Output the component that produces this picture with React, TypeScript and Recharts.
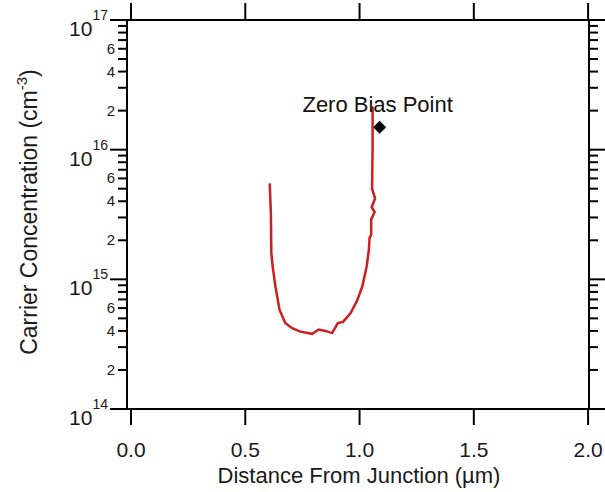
import React from 'react';
import { ComposedChart, Line, XAxis, YAxis, ReferenceDot } from 'recharts';

// carrier profile (µm, cm^-3)
const distance = [
  0.607, 0.612, 0.614, 0.62, 0.632, 0.65, 0.675, 0.705, 0.741, 0.793, 0.821, 0.851, 0.88, 0.905,
  0.928, 0.961, 0.99, 1.012, 1.031, 1.041, 1.044, 1.051, 1.051, 1.066, 1.053, 1.068, 1.055, 1.057,
  1.057,
];
const concentration = [
  5.5e15, 3.25e15, 1.6e15, 1.25e15, 8.8e14, 5.8e14, 4.6e14, 4.2e14, 3.95e14, 3.8e14, 4.1e14, 4.0e14,
  3.85e14, 4.6e14, 4.7e14, 5.5e14, 6.9e14, 8.8e14, 1.25e15, 1.7e15, 2.1e15, 2.2e15, 2.9e15, 3.3e15,
  3.6e15, 4.2e15, 5.0e15, 1.0e16, 2.15e16,
];

const zeroBiasX = 1.088;
const zeroBiasY = 1.49e16;
const zeroBiasLabel = 'Zero Bias Point';

const xTicks = [0, 0.5, 1.0, 1.5, 2.0];
const xTickLabels = ['0.0', '0.5', '1.0', '1.5', '2.0'];
const yTicks = [
  1e14, 2e14, 3e14, 4e14, 5e14, 6e14, 7e14, 8e14, 9e14,
  1e15, 2e15, 3e15, 4e15, 5e15, 6e15, 7e15, 8e15, 9e15,
  1e16, 2e16, 3e16, 4e16, 5e16, 6e16, 7e16, 8e16, 9e16,
  1e17,
];
const labelledMinors = [2, 4, 6];

const data = distance.map((d, i) => ({ dist: d, conc: concentration[i] }));

const FONT = '"Liberation Sans", Arial, Helvetica, sans-serif';
const AXIS = { stroke: '#000', strokeWidth: 2 };
const INK = '#1a1a1a';

function split(v: number) {
  const exp = Math.floor(Math.log10(v) + 1e-9);
  const mant = Math.round(v / Math.pow(10, exp));
  return { exp, mant };
}

const LeftTick = (props: any) => {
  const { x, y, payload } = props;
  const { exp, mant } = split(payload.value);
  if (mant === 1) {
    return (
      <g>
        <line x1={x - 17} x2={x} y1={y} y2={y} stroke="#000" strokeWidth={2} />
        <text x={x - 19} y={y + 16} textAnchor="end" fill={INK} fontFamily={FONT}>
          <tspan fontSize={21}>10</tspan>
          <tspan fontSize={14} dy={-16}>{exp}</tspan>
        </text>
      </g>
    );
  }
  return (
    <g>
      <line x1={x - 9} x2={x} y1={y} y2={y} stroke="#000" strokeWidth={2} />
      {labelledMinors.includes(mant) && (
        <text x={x - 12} y={y + 5} textAnchor="end" fontSize={15} fill={INK} fontFamily={FONT}>
          {mant}
        </text>
      )}
    </g>
  );
};

const RightTick = (props: any) => {
  const { x, y, payload } = props;
  const { mant } = split(payload.value);
  const len = mant === 1 ? 17 : 9;
  return <line x1={x} x2={x + len} y1={y} y2={y} stroke="#000" strokeWidth={2} />;
};

const BottomTick = (props: any) => {
  const { x, y, payload, index } = props;
  return (
    <g>
      <line x1={x} x2={x} y1={y} y2={y + 16} stroke="#000" strokeWidth={2} />
      <text x={x} y={y + 48} textAnchor="middle" fontSize={21} fill={INK} fontFamily={FONT}>
        {xTickLabels[index] ?? payload.value}
      </text>
    </g>
  );
};

const TopTick = (props: any) => {
  const { x, y } = props;
  return <line x1={x} x2={x} y1={y - 17} y2={y} stroke="#000" strokeWidth={2} />;
};

const Diamond = (props: any) => {
  const { cx, cy } = props;
  const s = 6.5;
  return (
    <g>
      <polygon
        points={`${cx},${cy - s} ${cx + s},${cy} ${cx},${cy + s} ${cx - s},${cy}`}
        fill="#000"
      />
      <text x={cx - 2} y={cy - 15} textAnchor="middle" fontSize={22} fill="#111" fontFamily={FONT}>
        {zeroBiasLabel}
      </text>
    </g>
  );
};

export default function App() {
  return (
    <div style={{ position: 'absolute', left: 0, top: 0, width: 605, height: 492, background: '#fff' }}>
      <ComposedChart width={605} height={492} data={data} margin={{ top: 0, right: 0, bottom: 0, left: 0 }}>
        <XAxis
          xAxisId="bottom"
          dataKey="dist"
          type="number"
          domain={[-0.0175, 2.004]}
          ticks={xTicks}
          height={83}
          axisLine={AXIS}
          tickLine={false}
          tickSize={0}
          tickMargin={0}
          tick={<BottomTick />}
          interval={0}
          allowDataOverflow
          label={{
            content: () => (
              <text x={359} y={483} textAnchor="middle" fontSize={22} fill={INK} fontFamily={FONT}>
                Distance From Junction (µm)
              </text>
            ),
          }}
        />
        <XAxis
          xAxisId="top"
          orientation="top"
          dataKey="dist"
          type="number"
          domain={[-0.0175, 2.004]}
          ticks={xTicks}
          height={20}
          axisLine={AXIS}
          tickLine={false}
          tickSize={0}
          tickMargin={0}
          tick={<TopTick />}
          interval={0}
          allowDataOverflow
        />
        <YAxis
          yAxisId="left"
          dataKey="conc"
          scale="log"
          type="number"
          domain={[1e14, 1e17]}
          ticks={yTicks}
          width={127}
          axisLine={AXIS}
          tickLine={false}
          tickSize={0}
          tickMargin={0}
          tick={<LeftTick />}
          interval={0}
          allowDataOverflow
          label={{
            content: () => (
              <text
                x={37}
                y={212}
                transform="rotate(-90, 37, 212)"
                textAnchor="middle"
                fill={INK}
                fontFamily={FONT}
              >
                <tspan fontSize={23}>Carrier Concentration (cm</tspan>
                <tspan fontSize={15} dy={-10}>-3</tspan>
                <tspan fontSize={23} dy={10}>)</tspan>
              </text>
            ),
          }}
        />
        <YAxis
          yAxisId="right"
          orientation="right"
          dataKey="conc"
          scale="log"
          type="number"
          domain={[1e14, 1e17]}
          ticks={yTicks}
          width={16}
          axisLine={AXIS}
          tickLine={false}
          tickSize={0}
          tickMargin={0}
          tick={<RightTick />}
          interval={0}
          allowDataOverflow
        />
        <Line
          xAxisId="bottom"
          yAxisId="left"
          dataKey="conc"
          stroke="#cc1f1f"
          strokeWidth={2.5}
          dot={false}
          type="linear"
          isAnimationActive={false}
        />
        <Line
          xAxisId="top"
          yAxisId="right"
          dataKey="conc"
          stroke="none"
          dot={false}
          isAnimationActive={false}
        />
        <ReferenceDot
          xAxisId="bottom"
          yAxisId="left"
          x={zeroBiasX}
          y={zeroBiasY}
          r={6}
          shape={<Diamond />}
          ifOverflow="visible"
        />
      </ComposedChart>
    </div>
  );
}
